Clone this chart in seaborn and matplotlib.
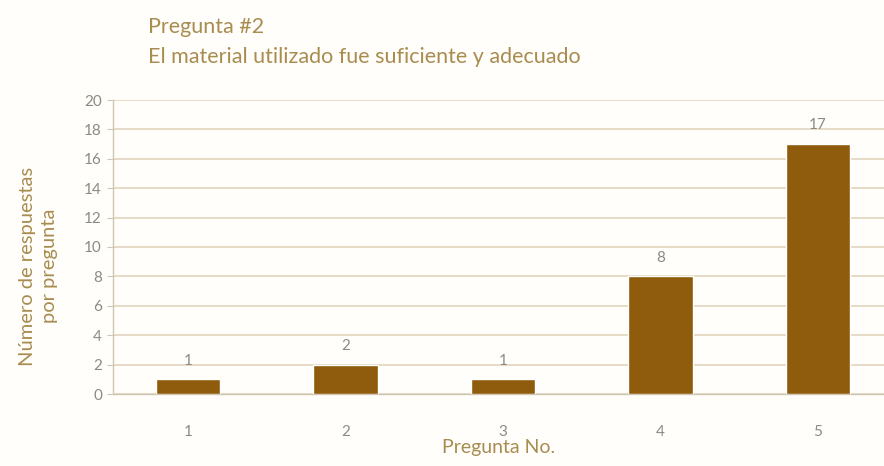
import matplotlib
matplotlib.use("Agg")
import matplotlib.pyplot as plt
import seaborn as sns
import pandas as pd

# Survey answers for question #2
categorias = ["1", "2", "3", "4", "5"]
respuestas = [1, 2, 1, 8, 17]
marcas_y = list(range(0, 21, 2))

titulo_1 = "Pregunta #2"
titulo_2 = "El material utilizado fue suficiente y adecuado"
etiqueta_x = "Pregunta No."
etiqueta_y = "Número de respuestas\npor pregunta"

df = pd.DataFrame({"pregunta": categorias, "respuestas": respuestas})

sns.set_theme(style="white")
plt.rcParams["font.family"] = ["Lato", "DejaVu Sans"]

fondo = "#fffefa"
marron = "#8e5c0c"
texto_tan = "#a88c50"
gris = "#8c8a82"

W, H = 884, 466
fig = plt.figure(figsize=(W / 100, H / 100), dpi=100, facecolor=fondo)
ax = fig.add_axes([113 / W, 1 - 394 / H, 1 - 113 / W, (394 - 100) / H])
ax.set_facecolor(fondo)

sns.barplot(data=df, x="pregunta", y="respuestas", color=marron,
            saturation=1, width=0.41, ax=ax, zorder=3)

ax.set_xlim(-0.476, 4.42)
ax.set_ylim(0, 20)
ax.set_yticks(marcas_y)
ax.yaxis.grid(True, color="#e3d8c2", linewidth=1.3, zorder=0)
ax.xaxis.grid(False)
ax.set_axisbelow(True)

for s in ["top", "right"]:
    ax.spines[s].set_visible(False)
for s in ["left", "bottom"]:
    ax.spines[s].set_color("#cfc6b4")
    ax.spines[s].set_linewidth(1.0)

ax.tick_params(axis="y", which="major", left=True, length=4, width=0.8,
               color="#cfc6b4", labelsize=11, labelcolor=gris, pad=4)
ax.tick_params(axis="x", which="major", bottom=False, labelsize=11,
               labelcolor=gris, pad=16)

for i, v in enumerate(respuestas):
    ax.text(i, v + 0.8, str(v), ha="center", va="bottom",
            fontsize=11, color=gris)

ax.set_xlabel(etiqueta_x, fontsize=14, color=texto_tan, labelpad=0)
ax.set_ylabel(etiqueta_y, fontsize=14.5, color=texto_tan, linespacing=1.35)
ax.yaxis.set_label_coords((58 - 113) / (W - 113), (394 - 266) / 294)

fig.text(148 / W, 1 - 33 / H, titulo_1, ha="left", va="baseline",
         fontsize=15.5, color=texto_tan)
fig.text(148 / W, 1 - 63 / H, titulo_2, ha="left", va="baseline",
         fontsize=15.5, color=texto_tan)

fig.savefig("out.png", dpi=100, facecolor=fondo)
